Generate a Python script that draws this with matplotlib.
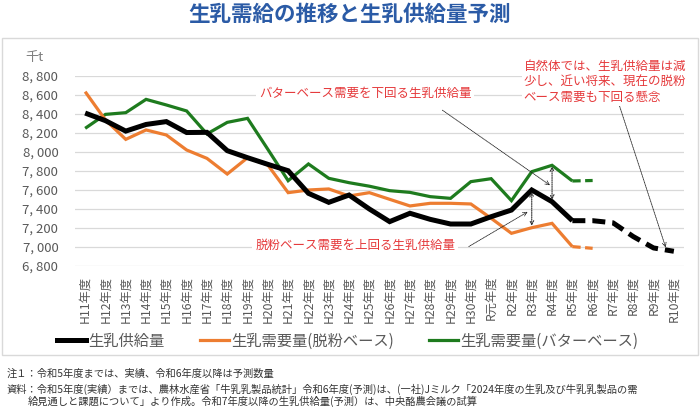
import matplotlib
matplotlib.use('Agg')
import matplotlib.pyplot as plt
from matplotlib.lines import Line2D
from matplotlib.patches import Rectangle

plt.rcParams['font.family'] = ['Noto Sans CJK JP', 'DejaVu Sans']

categories = ['H11年度', 'H12年度', 'H13年度', 'H14年度', 'H15年度', 'H16年度', 'H17年度',
              'H18年度', 'H19年度', 'H20年度', 'H21年度', 'H22年度', 'H23年度', 'H24年度',
              'H25年度', 'H26年度', 'H27年度', 'H28年度', 'H29年度', 'H30年度', 'R元年度',
              'R2年度', 'R3年度', 'R4年度', 'R5年度', 'R6年度', 'R7年度', 'R8年度', 'R9年度',
              'R10年度']

supply = [8410, 8330, 8220, 8290, 8320, 8205, 8207, 8014, 7940, 7870, 7803, 7565,
          7470, 7547, 7400, 7267, 7355, 7291, 7242, 7242, 7319, 7389, 7600, 7477,
          7277, 7277, 7255, 7110, 6990, 6955]
skim_demand = [8635, 8337, 8133, 8232, 8179, 8021, 7933, 7768, 7940, 7863, 7572, 7600,
               7611, 7537, 7572, 7502, 7432, 7460, 7460, 7453, 7302, 7144, 7203, 7249,
               7004, 6986]
butter_demand = [8249, 8396, 8414, 8554, 8495, 8432, 8190, 8312, 8354, 8028, 7698, 7874,
                 7723, 7677, 7640, 7593, 7575, 7530, 7512, 7688, 7719, 7488, 7793, 7860,
                 7695, 7700]
yticks = [6800, 7000, 7200, 7400, 7600, 7800, 8000, 8200, 8400, 8600, 8800]
ytick_labels = ['6, 800', '7, 000', '7, 200', '7, 400', '7, 600', '7, 800', '8, 000',
                '8, 200', '8, 400', '8, 600', '8, 800']

actual_end = 24  # R5

BLACK = '#000000'
ORANGE = '#ED7D31'
GREEN = '#1E7B1E'
RED = '#E5393B'
GRAY = '#595959'

fig = plt.figure(figsize=(7, 4.07), dpi=100)
ax = fig.add_axes([75 / 700, 1 - 266 / 407, 609 / 700, 190 / 407])

x = list(range(len(categories)))

def draw(vals, color, lw):
    n = len(vals)
    xs = x[:n]
    ax.plot(xs[:actual_end + 1], vals[:actual_end + 1], color=color, lw=lw,
            solid_capstyle='butt', solid_joinstyle='miter', zorder=3)
    ax.plot(xs[actual_end:], vals[actual_end:], color=color, lw=lw,
            linestyle=(0, (2.6, 1.4)), dash_capstyle='butt', zorder=3)

draw(butter_demand, GREEN, 2.3)
draw(skim_demand, ORANGE, 2.3)
draw(supply, BLACK, 3.6)

ax.set_xlim(-0.5, len(categories) - 0.5)
ax.set_ylim(6800, 8800)
ax.set_yticks(yticks)
ax.set_yticklabels(ytick_labels, fontsize=9.5, color=GRAY)
ax.set_xticks(x)
ax.set_xticklabels(categories, rotation=90, fontsize=8.8, color=GRAY, va='top')
ax.tick_params(length=0)
ax.tick_params(axis='x', pad=7)
ax.tick_params(axis='y', pad=12)
for s in ax.spines.values():
    s.set_visible(False)
ax.grid(axis='y', color='#d9d9d9', lw=0.9)
ax.set_axisbelow(True)

# annotations
ann_kw = dict(fontsize=9, color=RED, ha='center', va='center', zorder=5,
              bbox=dict(facecolor='white', edgecolor='none', pad=2))
ax.text(13.8, 8620, 'バターベース需要を下回る生乳供給量', **ann_kw)
ax.text(13.3, 7015, '脱粉ベース需要を上回る生乳供給量', **ann_kw)
ax.text(21.6, 8735, '自然体では、生乳供給量は減\n少し、近い将来、現在の脱粉\nベース需要も下回る懸念',
        fontsize=9, color=RED, ha='left', va='center', linespacing=1.25, zorder=5,
        clip_on=False, bbox=dict(facecolor='white', edgecolor='none', pad=1))

arrow_kw = dict(arrowstyle='->', color='#222222', lw=0.6, linestyle=(0, (1, 1)),
                shrinkA=0, shrinkB=0, mutation_scale=7)
ax.annotate('', xy=(22.9, 7650), xytext=(17.6, 8440), arrowprops=arrow_kw)
ax.annotate('', xy=(21.8, 7370), xytext=(18.9, 7005), arrowprops=arrow_kw)
ax.annotate('', xy=(28.6, 6995), xytext=(26.3, 8500), arrowprops=arrow_kw)

dbl_kw = dict(arrowstyle='<->', color='#333333', lw=0.8, linestyle=(0, (1, 1)),
              shrinkA=0, shrinkB=0, mutation_scale=7)
ax.annotate('', xy=(23, butter_demand[23] - 10), xytext=(23, supply[23] + 20), arrowprops=dbl_kw)
ax.annotate('', xy=(22, supply[22] - 20), xytext=(22, skim_demand[22] + 20), arrowprops=dbl_kw)

# title and unit
fig.text(0.5, 1 - 14 / 407, '生乳需給の推移と生乳供給量予測', fontsize=15.5, weight='bold',
         color='#2B5BA6', ha='center', va='center')
fig.text(25 / 700, 1 - 57 / 407, '千t', fontsize=9.5, color='#7f7f7f', ha='left', va='center')

# frame
fig.patches.append(Rectangle((2 / 700, 1 - 355 / 407), 696 / 700, 317 / 407,
                             transform=fig.transFigure, fill=False, ec='#d9d9d9', lw=1))

# legend
handles = [Line2D([], [], color=BLACK, lw=3.6),
           Line2D([], [], color=ORANGE, lw=2.3),
           Line2D([], [], color=GREEN, lw=2.3)]
labels = ['生乳供給量', '生乳需要量(脱粉ベース)', '生乳需要量(バターベース)']
fig.legend(handles, labels, loc='center', bbox_to_anchor=(0.497, 1 - 341 / 407), ncol=3,
           frameon=False, handlelength=1.9, handletextpad=0.15, columnspacing=2.3,
           fontsize=11, labelcolor=GRAY)

# footnotes
FN = '#333333'
fig.text(7 / 700, 1 - 374 / 407, '注１：令和5年度までは、実績、令和6年度以降は予測数量',
         fontsize=7.4, color=FN, ha='left', va='center')
fig.text(7 / 700, 1 - 389 / 407,
         '資料：令和5年度(実績）までは、農林水産省「牛乳乳製品統計」令和6年度(予測)は、(一社)Jミルク「2024年度の生乳及び牛乳乳製品の需',
         fontsize=7.4, color=FN, ha='left', va='center')
fig.text(28 / 700, 1 - 401 / 407,
         '給見通しと課題について」より作成。令和7年度以降の生乳供給量(予測）は、中央酪農会議の試算',
         fontsize=7.4, color=FN, ha='left', va='center')

fig.savefig('out.png', dpi=100)
